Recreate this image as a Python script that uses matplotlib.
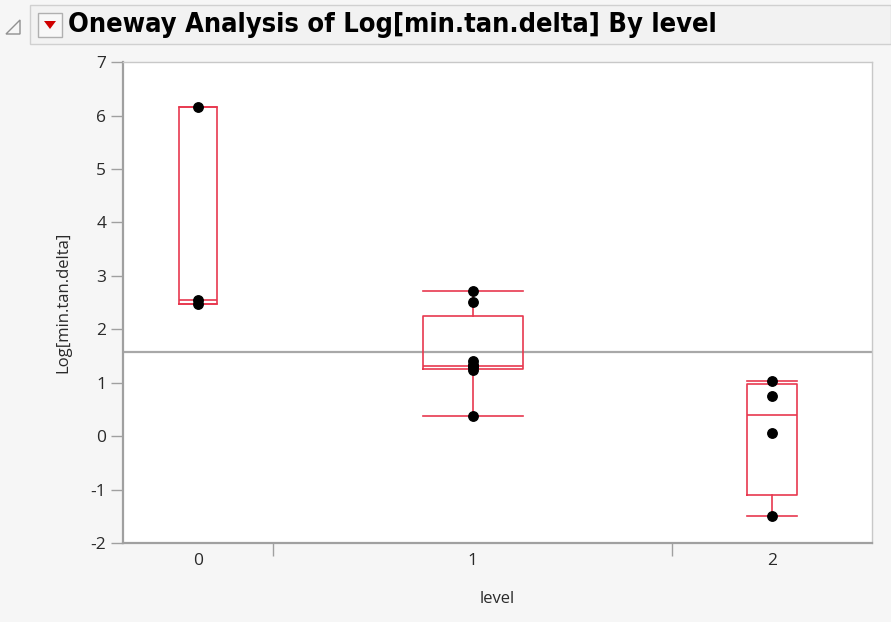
import numpy as np
import matplotlib.pyplot as plt
from matplotlib.patches import Rectangle, Polygon

# Log[min.tan.delta] observations by level
levels = ["0", "1", "2"]
level0 = [6.16, 2.54, 2.47]
level1 = [2.72, 2.52, 1.40, 1.33, 1.31, 1.30, 1.24, 0.37]
level2 = [1.04, 0.75, 0.06, -1.50]
groups = [level0, level1, level2]

RED = "#E8384F"
GRAY = "#A0A0A0"

plt.rcParams["font.family"] = ["Open Sans", "DejaVu Sans"]

fig = plt.figure(figsize=(8.91, 6.22), dpi=100, facecolor="#F6F6F6")
ax = fig.add_axes([0.138, 0.127, 0.841, 0.773])
ax.set_facecolor("white")

# category widths proportional to group size (like JMP)
counts = np.array([len(g) for g in groups])
edges = np.concatenate([[0], np.cumsum(counts)])
centers = (edges[:-1] + edges[1:]) / 2

stats = []
for g in groups:
    g = np.asarray(g)
    q1, med, q3 = np.quantile(g, [0.25, 0.5, 0.75], method="weibull")
    iqr = q3 - q1
    lo = g[g >= q1 - 1.5 * iqr].min()
    hi = g[g <= q3 + 1.5 * iqr].max()
    stats.append(dict(med=med, q1=q1, q3=q3, whislo=lo, whishi=hi, fliers=[]))

ax.bxp(stats, positions=centers, widths=counts * 0.25, showfliers=False,
       boxprops=dict(color=RED, lw=1.2),
       whiskerprops=dict(color=RED, lw=1.2),
       capprops=dict(color=RED, lw=1.2),
       medianprops=dict(color=RED, lw=1.2),
       capwidths=counts * 0.25, manage_ticks=False, zorder=2)

# grand mean
grand = np.mean(np.concatenate(groups))
ax.axhline(grand, color="#A8A8A8", lw=1.6, zorder=1)

for c, g in zip(centers, groups):
    ax.plot([c] * len(g), g, "o", color="black", ms=6.8, zorder=3)

ax.set_xlim(edges[0], edges[-1])
ax.set_ylim(-2, 7)
ax.set_yticks(range(-2, 8))
ax.set_yticklabels([str(v) for v in range(-2, 8)], fontsize=12.5, color="#2A2A2A")
ax.set_xticks(centers)
ax.set_xticklabels(levels, fontsize=12.5, color="#2A2A2A")
ax.tick_params(axis="x", length=0, pad=7)
ax.set_xticks(edges[1:-1], minor=True)
ax.tick_params(axis="x", which="minor", length=9, color=GRAY, width=1)
ax.tick_params(axis="y", length=9, color=GRAY, width=1, pad=3)

for side in ["left", "bottom"]:
    ax.spines[side].set_color(GRAY)
    ax.spines[side].set_linewidth(1.6)
for side in ["right", "top"]:
    ax.spines[side].set_color("#C8C8C8")
    ax.spines[side].set_linewidth(1.0)

ax.set_ylabel("Log[min.tan.delta]", fontsize=12, color="#2A2A2A", labelpad=14)
ax.set_xlabel("level", fontsize=12, color="#2A2A2A", labelpad=16)

# title bar
W, H = 891, 622
def px(x, y):
    return x / W, 1 - y / H

fig.patches.append(Rectangle(px(30, 44), 861 / W, 39 / H, transform=fig.transFigure,
                             facecolor="#F2F2F2", edgecolor="#D0D0D0", lw=1))
# outline disclosure triangle
fig.patches.append(Polygon([px(6, 34), px(20, 34), px(20, 20)], closed=True,
                           transform=fig.transFigure, facecolor="none",
                           edgecolor="#909090", lw=1))
# red dropdown button
fig.patches.append(Rectangle(px(38, 37), 24 / W, 24 / H, transform=fig.transFigure,
                             facecolor="#F8F8F8", edgecolor="#B0B0B0", lw=1))
fig.patches.append(Polygon([px(44, 21), px(56, 21), px(50, 29)], closed=True,
                           transform=fig.transFigure, facecolor="#D00000",
                           edgecolor="none"))
fig.text(*px(68, 25), "Oneway Analysis of Log[min.tan.delta] By level",
         fontsize=19.5, fontweight="bold", fontstretch="condensed",
         family=["Liberation Sans Narrow", "DejaVu Sans"],
         va="center", ha="left", color="black")

fig.savefig("out.png", dpi=100, facecolor=fig.get_facecolor())
